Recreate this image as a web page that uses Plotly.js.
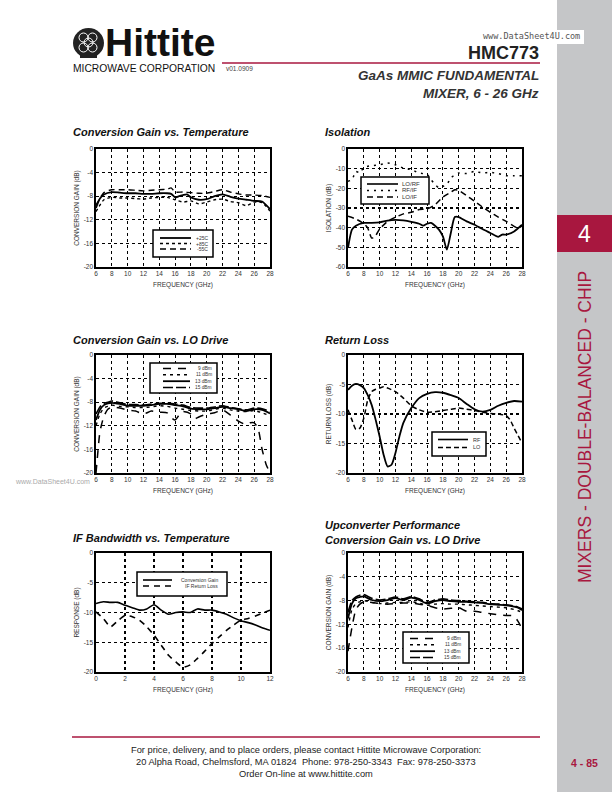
<!DOCTYPE html>
<html><head><meta charset="utf-8">
<script src="https://cdn.plot.ly/plotly-3.0.1.min.js"></script>
<style>html,body{margin:0;padding:0;background:#fff}#page{width:612px;height:792px}</style>
</head><body><div id="page"></div>
<script>
// ---------- DATA ----------
// Tick labels
const freqTicks = [6,8,10,12,14,16,18,20,22,24,26,28];
const ifTicks = [0,2,4,6,8,10,12];
const cgTicks = [0,-4,-8,-12,-16,-20];
const isoTicks = [0,-10,-20,-30,-40,-50,-60];
const rlTicks = [0,-5,-10,-15,-20];

// Conversion Gain vs. Temperature
const cgT25x = [6,6.5,7,8,9,10,11,12,13,14,15,15.5,16,16.5,17,17.5,18,19,20,21,22,23,24,25,26,27,28];
const cgT25 = [-10,-8.4,-7.7,-7.3,-7.4,-7.5,-7.5,-7.6,-7.6,-7.5,-7.5,-7.6,-8.2,-8.0,-7.8,-7.7,-8.2,-8.6,-8.5,-8.0,-7.7,-8.1,-8.4,-8.6,-8.8,-8.9,-10.2];
const cgT85x = [6,7,8,9,10,11,12,13,14,15,16,17,18,19,20,21,22,23,24,25,26,27,28];
const cgT85 = [-10.6,-8.6,-8.2,-8.3,-8.3,-8.4,-8.5,-8.3,-8.2,-8.2,-8.6,-9.0,-8.8,-9.3,-9.0,-8.6,-8.5,-8.9,-9.1,-9.6,-9.0,-9.1,-10.5];
const cgT55x = [6,7,8,9,10,11,12,13,14,15,15.5,16,17,18,19,20,21,22,23,24,25,26,27,28];
const cgT55 = [-9.5,-7.4,-6.9,-6.9,-6.9,-7.0,-7.1,-7.0,-6.9,-6.8,-6.6,-7.3,-7.3,-7.4,-7.5,-7.5,-7.2,-6.9,-7.3,-7.6,-7.8,-7.8,-7.9,-8.2];
const tempNames = ['+25C','+85C','-55C'];

// Isolation
const isoLoRfX = [6,6.5,7,8,9,10,11,12,13,14,15,15.5,16,16.5,17,17.5,18,18.5,19,19.5,20,21,22,23,24,25,25.5,26,27,28];
const isoLoRf = [-50.3,-41,-39,-37.6,-37.6,-37.3,-36.4,-36,-36.3,-37,-38,-39,-38,-37.6,-39,-41,-44.4,-51.2,-42.7,-34.6,-34.6,-36.8,-38.5,-40.7,-42.7,-44.7,-43.5,-43.5,-41.9,-38.5];
const isoRfIfX = [6,6.5,7,7.5,8,9,10,11,12,13,14,15,16,16.5,17,17.5,18,18.5,19,20,21,22,23,24,25,26,27,28];
const isoRfIf = [-16.4,-15.6,-11.4,-12.2,-9.3,-8.5,-8,-7.1,-8,-9.7,-10.5,-12.2,-13,-15.6,-18,-19.8,-19,-18.1,-14.7,-12.2,-12.5,-11.4,-12.2,-11.9,-12.5,-13.6,-13.6,-13.6];
const isoLoIfX = [6,7,8,8.5,9,9.5,10,11,12,13,14,15,16,17,18,19,19.5,20,21,22,23,24,25,26,27,27.5,28];
const isoLoIf = [-34.2,-35.6,-38,-40.2,-45.3,-44,-40.7,-36.8,-34.7,-33,-32.2,-30.8,-30.5,-28.3,-24.4,-22,-20.7,-21,-23.7,-26.6,-29.5,-32.2,-34.6,-36.8,-39.3,-40.2,-39];
const isoNames = ['LO/RF','RF/IF','LO/IF'];

// Conversion Gain vs. LO Drive (downconverter)
const loX = [6,6.5,7,7.5,8,9,10,11,12,13,14,15,16,17,18,19,20,21,22,23,24,25,26,27,28];
const lo13 = [-11,-9.3,-8.5,-8.2,-8.1,-8.3,-8.6,-8.6,-8.6,-8.5,-8.3,-8.3,-8.5,-8.7,-9.1,-9.2,-9.2,-9.0,-8.8,-9.0,-9.2,-9.5,-9.2,-9.3,-9.9];
const lo15 = [-10,-8.8,-8.2,-8.0,-7.8,-8.1,-8.4,-8.4,-8.5,-8.3,-8.2,-8.2,-8.3,-8.5,-8.9,-9.0,-9.0,-8.8,-8.6,-8.9,-9.1,-9.3,-9.0,-9.1,-9.6];
const lo11 = [-12,-10,-9,-8.7,-8.5,-8.7,-8.8,-8.9,-8.9,-8.8,-8.6,-8.7,-9.0,-9.2,-9.4,-9.5,-9.5,-9.2,-9.0,-9.3,-9.5,-9.6,-9.4,-9.8,-10.3];
const lo9x = [6,6.2,6.5,7,7.5,8,9,10,11,12,13,14,15,15.5,16,16.5,17,18,18.5,19,20,21,22,23,24,25,25.5,26,26.5,27,27.5,28];
const lo9 = [-20,-17,-13,-10.4,-9.2,-8.8,-9,-9.3,-9.5,-10,-9.5,-9.7,-9.8,-10.6,-11,-10.2,-9.6,-10,-10.8,-10.5,-10,-9.8,-9.3,-10.2,-11.2,-11.8,-11.5,-11.5,-12.5,-16,-18.5,-20];
const loNames = ['9 dBm','11 dBm','13 dBm','15 dBm'];

// Return Loss
const rlRfX = [6,6.5,7,7.5,8,8.5,9,9.5,10,10.5,11,11.5,12,12.5,13,14,15,16,17,18,19,20,21,22,23,24,25,26,27,28];
const rlRf = [-5.9,-5.2,-4.9,-5.1,-5.6,-6.8,-8.5,-11,-13.8,-16.9,-18.9,-18.6,-16.6,-13.8,-11.5,-9,-7.3,-6.6,-6.3,-6.4,-6.8,-7.3,-8.3,-9.2,-9.6,-9.3,-8.6,-8.1,-7.8,-7.9];
const rlLoX = [6,6.5,7,7.5,8,8.5,9,9.5,10,10.5,11,12,13,14,15,16,17,18,19,20,21,22,23,24,25,26,26.5,27,28];
const rlLo = [-9.3,-11,-12.6,-12.4,-10.7,-7.6,-6.2,-5.8,-5.6,-5.4,-5.6,-6.2,-7.3,-8.6,-9.3,-9.7,-9.6,-9.4,-9.2,-9,-9.2,-9.4,-9.7,-9.9,-10,-10.3,-11,-12.4,-14.9];
const rlNames = ['RF','LO'];

// IF Bandwidth vs. Temperature
const ifX = [0,0.5,1,1.5,2,2.5,3,3.5,4,4.5,5,5.5,6,6.5,7,7.5,8,8.5,9,9.5,10,10.5,11,11.5,12];
const ifGain = [-8.5,-8.2,-8.3,-8.3,-8.8,-9.2,-9.6,-9.4,-8.7,-9.6,-10.3,-10,-9.9,-10,-9.4,-9.6,-9.6,-9.9,-10.3,-10.9,-11.4,-11.7,-12.1,-12.6,-13];
const ifRl = [-9.9,-11,-12.4,-11.4,-10.5,-10.7,-11.3,-12.4,-13.8,-15.5,-17.2,-18.3,-19.2,-18.8,-17.7,-16.5,-15.2,-14.1,-13,-12.1,-11.3,-11,-10.6,-10.1,-9.6];
const ifNames = ['Conversion Gain','IF Return Loss'];

// Upconverter Conversion Gain vs. LO Drive
const upX = [6,6.5,7,7.5,8,9,10,11,12,13,14,15,16,17,18,19,20,21,22,23,24,25,26,27,27.5,28];
const up13 = [-11,-8.5,-7.6,-7.4,-7.3,-7.9,-8.1,-7.9,-7.6,-7.9,-7.5,-7.9,-8.5,-8.1,-7.9,-8.1,-8.2,-8.2,-8.3,-8.4,-8.6,-8.7,-8.8,-9.0,-9.2,-9.6];
const up15 = [-10,-8.0,-7.4,-7.1,-7.0,-7.6,-7.9,-7.7,-7.4,-7.7,-7.3,-7.7,-8.3,-7.9,-7.7,-7.9,-8.0,-8.1,-8.2,-8.3,-8.5,-8.6,-8.7,-8.9,-9.1,-9.4];
const up11 = [-12.5,-9.5,-8.5,-8.2,-8.0,-8.3,-8.5,-8.4,-8.3,-8.3,-8.2,-8.4,-8.8,-8.6,-8.5,-8.6,-8.6,-8.7,-8.8,-8.9,-9.0,-9.1,-9.2,-9.5,-9.7,-10.0];
const up9 = [-16.5,-12.5,-9.5,-8.6,-8.2,-8.3,-8.5,-8.6,-8.5,-8.4,-8.4,-8.6,-8.8,-9.2,-9.4,-9.3,-9.2,-9.8,-9.8,-10,-10.2,-10.4,-10.5,-10.6,-11.5,-12.7];

// ---------- STYLE / LAYOUT ----------
const W = 612, H = 792;
const PX = x => x / W, PY = y => 1 - y / H;
const FONT = 'Liberation Sans, Arial, Helvetica, sans-serif';
const RED = '#a8173f';
const DASH = {solid:'solid', t85:'3px,3px', t55:'6px,4px', dots:'2px,5px', mid:'6px,4px',
              d9:'8px,7px', d11:'3px,4px', d15:'10px,3px', lo:'5px,3px', ifrl:'6px,5px'};

function line(x, y, ax, dash, w) {
  return {x:x, y:y, xaxis:'x'+ax, yaxis:'y'+ax, type:'scatter', mode:'lines',
          line:{color:'#000', width:w||1.5, dash:dash, shape:'spline', smoothing:0.6},
          showlegend:false, hoverinfo:'skip'};
}

const traces = [
  line(cgT25x, cgT25, '', DASH.solid, 1.8),
  line(cgT85x, cgT85, '', DASH.t85, 1.4),
  line(cgT55x, cgT55, '', DASH.t55, 1.4),
  line(isoLoRfX, isoLoRf, '2', DASH.solid, 1.8),
  line(isoRfIfX, isoRfIf, '2', DASH.dots, 1.5),
  line(isoLoIfX, isoLoIf, '2', DASH.mid, 1.5),
  line(lo9x, lo9, '3', DASH.d9, 1.5),
  line(loX, lo11, '3', DASH.d11, 1.4),
  line(loX, lo13, '3', DASH.solid, 1.8),
  line(loX, lo15, '3', DASH.d15, 1.6),
  line(rlRfX, rlRf, '4', DASH.solid, 1.8),
  line(rlLoX, rlLo, '4', DASH.lo, 1.5),
  line(ifX, ifGain, '5', DASH.solid, 1.6),
  line(ifX, ifRl, '5', DASH.ifrl, 1.6),
  line(upX, up9, '6', DASH.d9, 1.5),
  line(upX, up11, '6', DASH.d11, 1.4),
  line(upX, up13, '6', DASH.solid, 1.8),
  line(upX, up15, '6', DASH.d15, 1.6)
];

function xAxis(px0, px1, ticks, anchor) {
  return {domain:[PX(px0), PX(px1)], range:[ticks[0], ticks[ticks.length-1]], anchor:anchor,
    tickmode:'array', tickvals:ticks, ticktext:ticks.map(String),
    showline:true, mirror:true, linecolor:'#000', linewidth:1.6,
    showgrid:true, gridcolor:'#000', griddash:'dot', gridwidth:1.1, zeroline:false,
    ticks:'', tickfont:{family:FONT, size:6.5, color:'#333'},
    title:{text:'FREQUENCY (GHz)', font:{family:FONT, size:6.5, color:'#333'}, standoff:6}};
}
function yAxis(py0, py1, ticks, anchor, title) {
  return {domain:[PY(py1), PY(py0)], range:[ticks[ticks.length-1], ticks[0]], anchor:anchor,
    tickmode:'array', tickvals:ticks, ticktext:ticks.map(String),
    showline:true, mirror:true, linecolor:'#000', linewidth:1.6,
    showgrid:true, gridcolor:'#000', griddash:'dot', gridwidth:1.1, zeroline:false,
    ticks:'', tickfont:{family:FONT, size:6.5, color:'#333'},
    title:{text:title, font:{family:FONT, size:6.5, color:'#333'}, standoff:3}};
}

const shapes = [];
const annotations = [];

function txt(x, y, text, size, opts) {
  annotations.push(Object.assign({xref:'paper', yref:'paper', x:PX(x), y:PY(y), text:text,
    showarrow:false, xanchor:'left', yanchor:'middle', borderpad:0,
    font:{family:FONT, size:size, color:'#000'}}, opts||{}));
}
function rect(x0, y0, x1, y1, fill, lineW, lineC, layer) {
  shapes.push({type:'rect', xref:'paper', yref:'paper', x0:PX(x0), x1:PX(x1), y0:PY(y0), y1:PY(y1),
    fillcolor:fill, line:{width:lineW||0, color:lineC||'#000'}, layer:layer||'above'});
}
function hline(x0, x1, y, color, w, dash) {
  shapes.push({type:'line', xref:'paper', yref:'paper', x0:PX(x0), x1:PX(x1), y0:PY(y), y1:PY(y),
    line:{color:color, width:w, dash:dash||'solid'}, layer:'above'});
}
// Legend box drawn inside a chart
function legendBox(box, lx, tx, rows, names, dashes, widths, size, anchor) {
  rect(box[0], box[1], box[2], box[3], '#fff', 1.5, '#000');
  names.forEach((n, i) => {
    hline(lx[0], lx[1], rows[i], '#000', widths[i], dashes[i]);
    txt(tx, rows[i], n, size, {xanchor:anchor, font:{family:FONT, size:size, color:'#333'}});
  });
}

// ----- page decoration -----
rect(557, 0, 612, 792, '#c5c6c8', 0, null, 'below');
rect(557, 215, 612, 252, RED, 0);
txt(584.5, 234, '4', 23, {xanchor:'center', font:{family:FONT, size:23, color:'#fff'}});
txt(585, 427, 'MIXERS - DOUBLE-BALANCED - CHIP', 17.5,
    {xanchor:'center', textangle:-90, font:{family:FONT, size:17.5, color:RED}});
rect(478, 30, 584, 44, '#fff', 0);
txt(531, 36.5, 'www.DataSheet4U.com', 8.5, {xanchor:'center', font:{family:'DejaVu Sans Mono, monospace', size:8.5, color:'#555'}});

// logo
shapes.push({type:'circle', xref:'paper', yref:'paper', x0:PX(73), x1:PX(104), y0:PY(28), y1:PY(58),
  fillcolor:'#222', line:{width:0}});
[[79,88,33,42],[88,97,33,42],[79,88,43,52],[88,97,43,52],[84,93,38,47]].forEach(c => {
  shapes.push({type:'circle', xref:'paper', yref:'paper', x0:PX(c[0]), x1:PX(c[1]), y0:PY(c[2]), y1:PY(c[3]),
    fillcolor:'rgba(0,0,0,0)', line:{width:1, color:'#fff'}});
});
rect(80, 54, 97, 58, '#222', 0);
txt(104, 43, '<b>Hittite</b>', 39, {font:{family:FONT, size:39, color:'#111'}});
txt(72, 68, 'MICROWAVE CORPORATION', 10.3, {font:{family:FONT, size:10.3, color:'#111'}});
txt(225, 68, 'v01.0909', 6.5, {font:{family:FONT, size:6.5, color:'#444'}});
hline(222, 540, 63, RED, 1.3);
txt(540, 52.5, '<b>HMC773</b>', 18, {xanchor:'right', font:{family:FONT, size:18, color:'#222'}});
txt(540, 76, '<b><i>GaAs MMIC FUNDAMENTAL</i></b>', 13.5, {xanchor:'right', font:{family:FONT, size:13.5, color:'#333'}});
txt(540, 93, '<b><i>MIXER, 6 - 26 GHz</i></b>', 13.5, {xanchor:'right', font:{family:FONT, size:13.5, color:'#333'}});

// footer
hline(72, 540, 737, RED, 1.3);
txt(306, 750, 'For price, delivery, and to place orders, please contact Hittite Microwave Corporation:', 9.3, {xanchor:'center', font:{family:FONT, size:9.3, color:'#222'}});
txt(306, 762, '20 Alpha Road, Chelmsford, MA 01824  Phone: 978-250-3343  Fax: 978-250-3373', 9.3, {xanchor:'center', font:{family:FONT, size:9.3, color:'#222'}});
txt(306, 774, 'Order On-line at www.hittite.com', 9.3, {xanchor:'center', font:{family:FONT, size:9.3, color:'#222'}});
txt(584, 763, '<b>4 - 85</b>', 10.5, {xanchor:'center', font:{family:FONT, size:10.5, color:RED}});

// chart titles
const TT = {font:{family:FONT, size:11, color:'#111'}};
txt(72, 132, '<b><i>Conversion Gain vs. Temperature</i></b>', 11, TT);
txt(324, 132, '<b><i>Isolation</i></b>', 11, TT);
txt(72, 340, '<b><i>Conversion Gain vs. LO Drive</i></b>', 11, TT);
txt(324, 340, '<b><i>Return Loss</i></b>', 11, TT);
txt(72, 538, '<b><i>IF Bandwidth vs. Temperature</i></b>', 11, TT);
txt(324, 525, '<b><i>Upconverter Performance</i></b>', 11, TT);
txt(324, 540, '<b><i>Conversion Gain vs. LO Drive</i></b>', 11, TT);

// legends
legendBox([153,230,213,257], [160,191], 209, [238,243.5,249], tempNames,
          [DASH.solid, DASH.t85, DASH.t55], [1.8,1.4,1.4], 5, 'right');
legendBox([361,177,429,204], [367,398], 401, [184,190.5,197], isoNames,
          [DASH.solid, DASH.dots, DASH.mid], [1.6,1.5,1.5], 6, 'left');
legendBox([150,363,217,393], [163,190], 213, [368.5,374.8,381.2,387.5], loNames,
          [DASH.d9, DASH.d11, DASH.solid, DASH.d15], [1.5,1.4,1.8,1.6], 4.8, 'right');
legendBox([432,432,486,456], [438,468], 472, [439.5,447.5], rlNames,
          [DASH.solid, DASH.lo], [1.6,1.5], 5.5, 'left');
legendBox([137,572,227,596], [143,172], 219, [580,586], ifNames,
          [DASH.solid, DASH.ifrl], [1.6,1.6], 5, 'right');
legendBox([403,632,469,663], [410,435], 462, [638.5,644.8,651.2,657.5], loNames,
          [DASH.d9, DASH.d11, DASH.solid, DASH.d15], [1.5,1.4,1.8,1.6], 4.8, 'right');

// watermark near chart 3
txt(52, 481, 'www.DataSheet4U.com', 7, {xanchor:'center', font:{family:FONT, size:7, color:'#aaa'}});

const layout = {
  width:W, height:H, margin:{l:0, r:0, t:0, b:0}, paper_bgcolor:'#fff', plot_bgcolor:'#fff',
  showlegend:false, font:{family:FONT},
  xaxis:  xAxis(96, 270, freqTicks, 'y'),
  yaxis:  yAxis(149, 267, cgTicks, 'x', 'CONVERSION GAIN (dB)'),
  xaxis2: xAxis(348, 522, freqTicks, 'y2'),
  yaxis2: yAxis(149, 267, isoTicks, 'x2', 'ISOLATION (dB)'),
  xaxis3: xAxis(96, 270, freqTicks, 'y3'),
  yaxis3: yAxis(355, 473, cgTicks, 'x3', 'CONVERSION GAIN (dB)'),
  xaxis4: xAxis(348, 522, freqTicks, 'y4'),
  yaxis4: yAxis(355, 473, rlTicks, 'x4', 'RETURN LOSS (dB)'),
  xaxis5: xAxis(96, 270, ifTicks, 'y5'),
  yaxis5: yAxis(553, 672, rlTicks, 'x5', 'RESPONSE (dB)'),
  xaxis6: xAxis(348, 522, freqTicks, 'y6'),
  yaxis6: yAxis(553, 672, cgTicks, 'x6', 'CONVERSION GAIN (dB)'),
  shapes:shapes, annotations:annotations
};

Plotly.newPlot('page', traces, layout, {staticPlot:true, displayModeBar:false});
</script></body></html>
